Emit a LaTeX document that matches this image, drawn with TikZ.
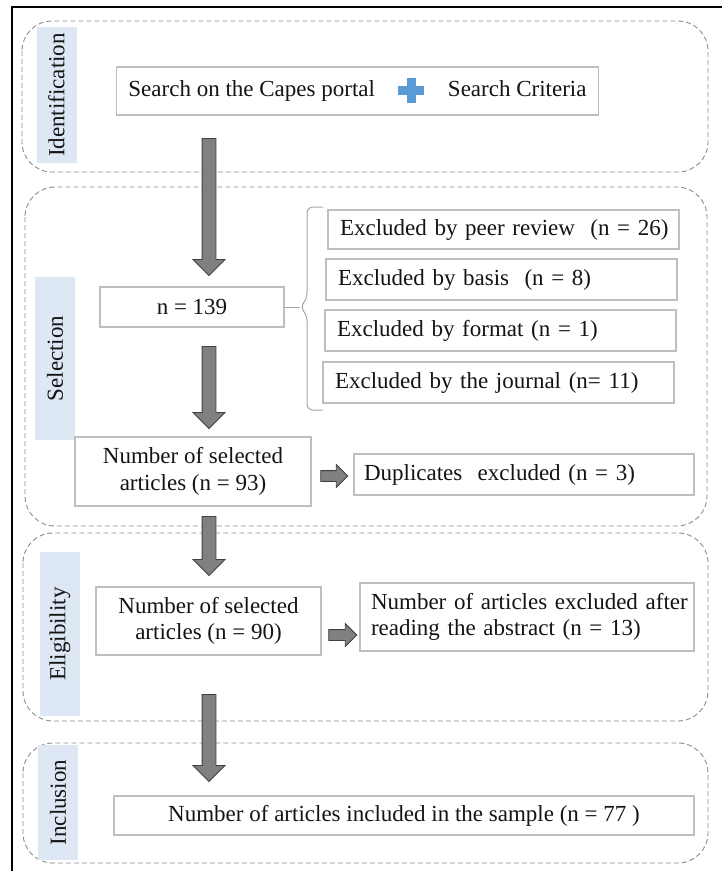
\documentclass[tikz,border=0pt]{standalone}
\usepackage{fontspec}
\setmainfont{Liberation Serif}
\usetikzlibrary{shapes.arrows}
\definecolor{boxgray}{RGB}{191,191,191}
\definecolor{dashgray}{RGB}{140,140,140}
\definecolor{barblue}{RGB}{221,232,244}
\definecolor{arrowgray}{RGB}{128,128,128}
\definecolor{arrowedge}{RGB}{64,64,64}
\definecolor{plusblue}{RGB}{91,155,213}
\definecolor{bracegray}{RGB}{166,166,166}
\definecolor{textdark}{RGB}{20,20,20}

\begin{document}
\begin{tikzpicture}[x=1pt, y=-1pt,
  every node/.style={font=\fontsize{23}{26.5}\selectfont, text=textdark},
  box/.style={draw=boxgray, line width=1.1pt, fill=white, minimum height=40pt,
              align=center, inner sep=0pt},
  exbox/.style={box, minimum width=351pt, text width=327pt, align=left},
  phase/.style={draw=dashgray, dash pattern=on 5pt off 3pt, line width=0.9pt,
                rounded corners=30pt},
  phasebar/.style={fill=barblue, rotate=90, minimum height=40pt, inner sep=0pt},
  fatarrow/.style={single arrow, draw=arrowedge, fill=arrowgray, line width=0.9pt,
                   single arrow head extend=9pt, single arrow tip angle=90,
                   shape border rotate=270, inner sep=6.5pt},
  smallarrow/.style={fatarrow, single arrow head extend=6pt, inner sep=5pt,
                     shape border rotate=0}]
  \useasboundingbox (0,0) rectangle (722,871);
  % Frame
  \draw[line width=1.3pt] (12,871) |- (722,7);

  % Phases
  \draw[phase] (22,21) rectangle (708,172);
  \draw[phase] (25,187) rectangle (707,526);
  \draw[phase] (23,533) rectangle (708,721);
  \draw[phase] (23,743) rectangle (708,863);
  \node[phasebar, minimum width=136pt] (identbar) at (56.5,95) {Identification};
  \node[phasebar, minimum width=163pt] (selbar) at (55,358.5) {Selection};
  \node[phasebar, minimum width=164pt] (eligbar) at (60,634) {Eligibility};
  \node[phasebar, minimum width=115pt] (inclbar) at (58,802.5) {Inclusion};

  % Identification
  \node[box, minimum width=482pt, minimum height=48pt] (search) at (357.5,91)
    {Search on the Capes portal\hspace{73pt}Search Criteria};
  \coordinate (plus) at (411,90);
  \fill[plusblue] ([shift={(-13,-4.5)}]plus) rectangle ([shift={(13,4.5)}]plus);
  \fill[plusblue] ([shift={(-4.5,-12.5)}]plus) rectangle ([shift={(4.5,12.5)}]plus);

  % Selection
  \node[box, minimum width=184pt] (n139) at (192,307) {n = 139};
  \node[exbox, minimum height=39pt] (peer) at (503.5,229.5)
    {\mbox{Excluded by peer review~ (n = 26)}};
  \node[exbox, minimum height=41pt] (basis) at (501.5,279.5)
    {\mbox{Excluded by basis~ (n = 8)}};
  \node[exbox, minimum height=41pt] (format) at (500.5,330.5)
    {\mbox{Excluded by format (n = 1)}};
  \node[exbox, minimum height=41pt] (journal) at (498.5,382.5)
    {\mbox{Excluded by the journal (n= 11)}};
  \coordinate (btop) at (323,207);
  \coordinate (bbot) at (323,410);
  \coordinate (btip) at (300,307);
  \draw[bracegray, line width=1pt, rounded corners=6pt]
    (btop) -| (307,299) -- (btip) -- (307,315) |- (bbot);
  \draw[bracegray, line width=1pt] (n139.east) -- (btip);
  \node[box, minimum width=236pt, minimum height=69pt] (n93) at (193,471.5)
    {Number of selected\\articles (n = 93)};
  \node[box, minimum width=340pt, minimum height=41pt, text width=320pt, align=left]
    (dup) at (524,474.5) {\mbox{Duplicates~ excluded (n = 3)}};
  \node[smallarrow, minimum height=27pt] (a93) at (331.5,476) {};

  % Eligibility
  \node[box, minimum width=225pt, minimum height=68pt] (n90) at (208.5,621)
    {Number of selected\\articles (n = 90)};
  \node[box, minimum width=334pt, minimum height=68pt, text width=312pt, align=left]
    (abs) at (527,617)
    {\mbox{Number of articles excluded after}\\\mbox{reading the abstract (n = 13)}};
  \node[smallarrow, minimum height=28pt] (a90) at (340,635) {};

  % Inclusion
  \node[box, minimum width=580pt, minimum height=39pt] (final) at (404,815.5)
    {Number of articles included in the sample (n = 77 )};

  % Flow arrows
  \node[fatarrow, minimum height=137pt] (a1) at (209,203.5) {};
  \node[fatarrow, minimum height=82pt] (a2) at (209,384) {};
  \node[fatarrow, minimum height=59pt] (a3) at (209,542.5) {};
  \node[fatarrow, minimum height=87pt] (a4) at (209,734.5) {};
\end{tikzpicture}
\end{document}
